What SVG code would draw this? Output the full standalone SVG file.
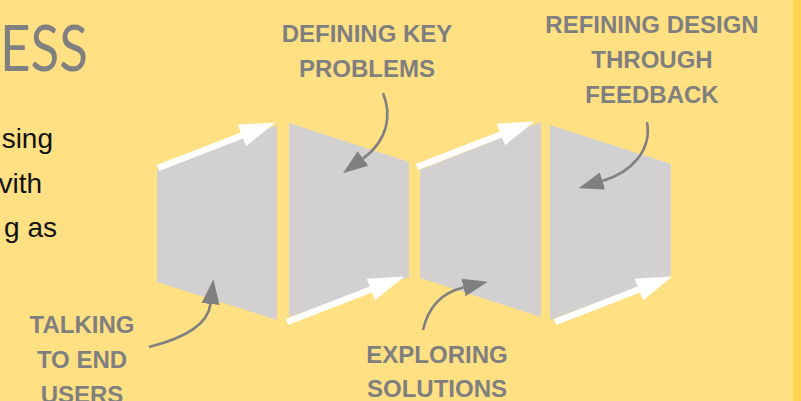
<svg xmlns="http://www.w3.org/2000/svg" width="801" height="401" viewBox="0 0 801 401">
  <style>
    .panel { fill: #d3d0d1; }
    .label { font-family: "Liberation Sans", Arial, sans-serif; font-weight: bold; font-size: 24px; fill: #7f7f7f; text-anchor: middle; }
    .body { font-family: "Liberation Sans", Arial, sans-serif; font-size: 28px; fill: #111111; text-anchor: end; }
    .title { font-family: "Lato", "Liberation Sans", Arial, sans-serif; font-weight: 400; font-size: 64px; fill: #808080; }
    .flow { fill: #ffffff; }
    .callout { fill: none; stroke: #808080; stroke-width: 2.6; marker-end: url(#grayHead); }
  </style>
  <defs>
    <!-- white flow arrow drawn along +x, start at origin -->
    <path id="flowArrow" d="M0,-3.2 H90 V-11.5 L126,0 L90,11.5 V3.2 H0 Z"/>
    <marker id="grayHead" markerUnits="userSpaceOnUse" markerWidth="26" markerHeight="20" refX="0" refY="9" orient="auto" viewBox="0 0 26 18">
      <path d="M0,0 L25,9 L0,18 Z" fill="#808080"/>
    </marker>
  </defs>

  <!-- background -->
  <rect x="0" y="0" width="801" height="401" fill="#ffe083"/>
  <rect x="793" y="0" width="8" height="401" fill="#ffd54f"/>

  <!-- heading and intro text -->
  <g id="heading">
    <text class="title" x="0" y="71" textLength="88" lengthAdjust="spacingAndGlyphs">ESS</text>
  </g>
  <g id="intro">
    <text class="body" x="53" y="148">sing</text>
    <text class="body" x="42" y="193">vith</text>
    <text class="body" x="57" y="237">g as</text>
  </g>

  <!-- four process panels -->
  <g id="panel-talking">
    <polygon class="panel" points="157,170 277,125 277,320 157,282"/>
  </g>
  <g id="panel-defining">
    <polygon class="panel" points="289,123 409,162 409,277 289,317"/>
  </g>
  <g id="panel-exploring">
    <polygon class="panel" points="420,170 541,122 541,317 420,278"/>
  </g>
  <g id="panel-refining">
    <polygon class="panel" points="550,125 671,164 671,275 550,320"/>
  </g>

  <!-- stage labels -->
  <g id="label-defining">
    <text class="label" x="367" y="42">DEFINING KEY</text>
    <text class="label" x="367" y="77">PROBLEMS</text>
  </g>
  <g id="label-refining">
    <text class="label" x="652" y="33">REFINING DESIGN</text>
    <text class="label" x="652" y="68">THROUGH</text>
    <text class="label" x="652" y="103">FEEDBACK</text>
  </g>
  <g id="label-talking">
    <text class="label" x="82" y="333">TALKING</text>
    <text class="label" x="82" y="368">TO END</text>
    <text class="label" x="82" y="403">USERS</text>
  </g>
  <g id="label-exploring">
    <text class="label" x="437" y="363">EXPLORING</text>
    <text class="label" x="437" y="397">SOLUTIONS</text>
  </g>

  <!-- connectors -->
  <g id="connectors">
    <use href="#flowArrow" class="flow" transform="translate(158,168) rotate(-21.2)"/>
    <use href="#flowArrow" class="flow" transform="translate(287,322) rotate(-21.2)"/>
    <use href="#flowArrow" class="flow" transform="translate(417,167) rotate(-21.2)"/>
    <use href="#flowArrow" class="flow" transform="translate(555,322) rotate(-21.2)"/>

    <path class="callout" d="M383,93 C392,115 388,140 363,158.5"/>
    <path class="callout" d="M149,347 C185,338 208,325 210.5,304"/>
    <path class="callout" d="M423,330 C428,308 440,293 463.5,287.5"/>
    <path class="callout" d="M647,122 C652,150 632,172 602.5,181"/>
  </g>
</svg>
